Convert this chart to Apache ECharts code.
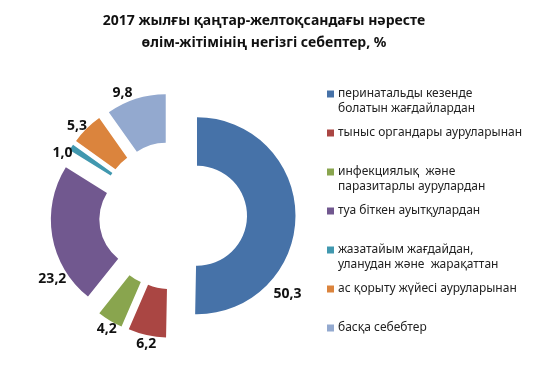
<!DOCTYPE html>
<html>
<head>
<meta charset="utf-8">
<script src="https://cdn.jsdelivr.net/npm/echarts@6/dist/echarts.min.js"></script>
<style>
html,body{margin:0;padding:0;background:#fff;}
#chart{width:557px;height:390px;}
</style>
</head>
<body>
<div id="chart"></div>
<script>
const titleText = '2017 жылғы қаңтар-желтоқсандағы нәресте\nөлім-жітімінің негізгі себептер, %';
const categories = [
  'перинатальды кезенде\nболатын жағдайлардан',
  'тыныс органдары ауруларынан',
  'инфекциялық  және\nпаразитарлы аурулардан',
  'туа біткен ауытқулардан',
  'жазатайым жағдайдан,\nуланудан және  жарақаттан',
  'ас қорыту жүйесі ауруларынан',
  'басқа себебтер'
];
const values = [50.3, 6.2, 4.2, 23.2, 1.0, 5.3, 9.8];
const colors = ['#4672A8', '#AA4643', '#89A54E', '#71588F', '#4198AF', '#DB843D', '#93A9CF'];
// small label nudges (px) to match the reference's label placement
const labelNudge = [[-32, 77], [13, 1], [13, 2], [24, 41], [10, 10], [8, 3], [1, 2]];

const chart = echarts.init(document.getElementById('chart'), null, {renderer: 'canvas'});

const rich = {
  t: {fontFamily: 'Noto Sans', fontSize: 12, color: '#222', lineHeight: 15},
  g: {width: 4, lineHeight: 15},
  e: {width: 7, height: 7, lineHeight: 15}
};
colors.forEach((c, i) => {
  rich['s' + i] = {width: 7, height: 7, backgroundColor: c, lineHeight: 15};
});

const option = {
  animation: false,
  color: colors,
  title: {
    text: titleText,
    left: 264,
    textAlign: 'center',
    top: 10,
    padding: 0,
    textStyle: {fontFamily: 'Noto Sans', fontWeight: 'bold', fontSize: 14, lineHeight: 22, color: '#111'}
  },
  legend: {
    orient: 'vertical',
    left: 322,
    top: 88,
    padding: 0,
    itemGap: 12,
    itemWidth: 0,
    itemHeight: 0,
    selectedMode: false,
    data: categories,
    formatter: function (name) {
      const i = categories.indexOf(name);
      const lines = name.split('\n');
      return '{s' + i + '| }{g| }{t|' + lines[0] + '}\n{e| }{g| }{t|' + (lines[1] || ' ') + '}';
    },
    textStyle: {rich: rich}
  },
  series: [{
    type: 'pie',
    center: [173, 215.5],
    radius: [50, 98.5],
    startAngle: 90,
    clockwise: true,
    avoidLabelOverlap: false,
    selectedMode: 'multiple',
    selectedOffset: 24,
    emphasis: {disabled: true},
    itemStyle: {borderWidth: 0},
    label: {
      show: true,
      position: 'outside',
      distanceToLabelLine: 2,
      fontFamily: 'Noto Sans',
      fontWeight: 'bold',
      fontSize: 14,
      color: '#111',
      formatter: p => p.value.toFixed(1).replace('.', ',')
    },
    labelLine: {show: false, length: 8, length2: 0},
    labelLayout: function (p) {
      const n = labelNudge[p.dataIndex];
      return {dx: n[0], dy: n[1]};
    },
    data: categories.map((n, i) => ({name: n, value: values[i], selected: true}))
  }]
};
chart.setOption(option);
</script>
</body>
</html>
